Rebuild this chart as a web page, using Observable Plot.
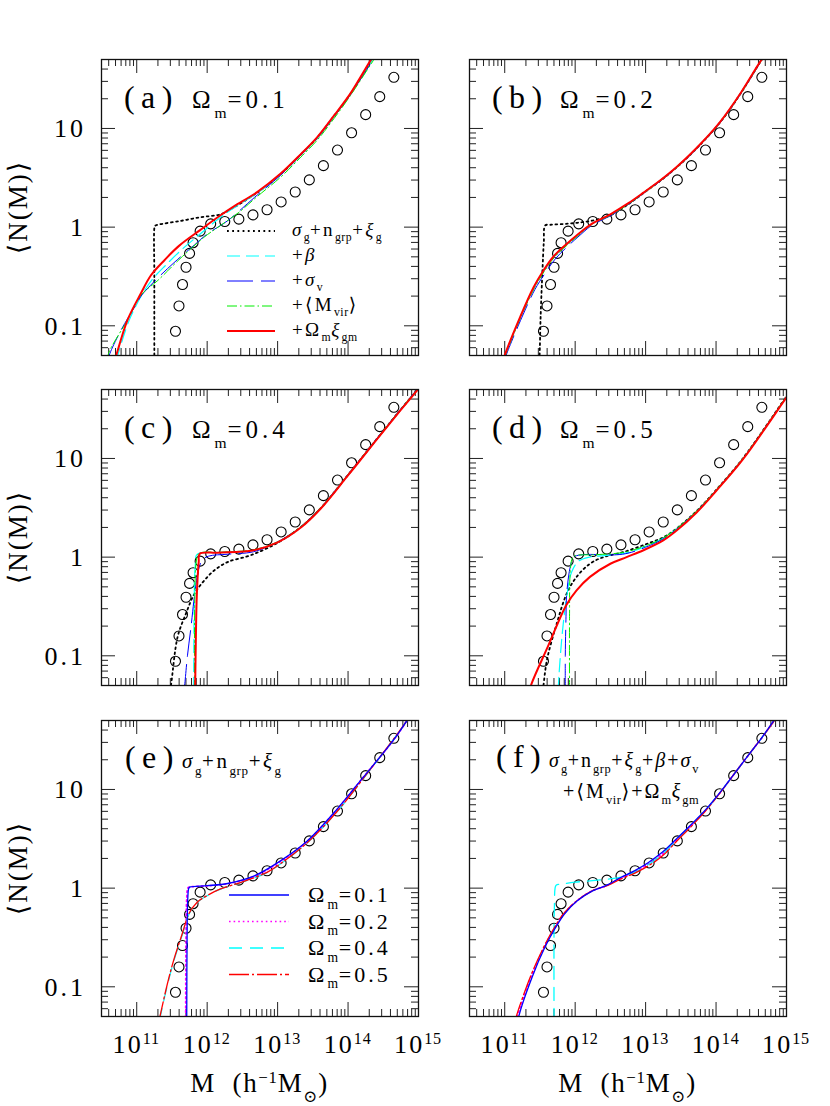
<!DOCTYPE html>
<html><head><meta charset="utf-8">
<script src="https://cdn.jsdelivr.net/npm/d3@7"></script>
<script src="https://cdn.jsdelivr.net/npm/@observablehq/plot@0.6"></script>
<style>
body{margin:0;background:#fff;}
#wrap{position:relative;width:830px;height:1106px;background:#fff;overflow:hidden;}
#wrap svg{position:absolute;}
</style></head><body><div id="wrap"></div>
<script>
// ---------- data (log10 M, log10 N) ----------
const obsLogM = [11.55,11.60,11.65,11.70,11.75,11.80,11.90,12.05,12.25,12.45,12.65,12.85,13.05,13.25,13.45,13.65,13.85,14.05,14.25,14.45,14.65];
const obsN = [0.088,0.159,0.262,0.392,0.542,0.695,0.91,1.08,1.14,1.205,1.33,1.50,1.80,2.27,3.01,4.20,6.04,9.04,13.8,21.0,33.0];

const a_dot = [[11.25,-1.35],[11.25,-0.5],[11.252,0.0],[11.26,0.012],[11.30,0.024],[11.6,0.06],[11.9,0.10],[12.19,0.13],[12.38,0.2],[12.71,0.35],[13.04,0.535],[13.33,0.735],[13.56,0.905],[13.8,1.125],[14.03,1.345],[14.33,1.69],[14.36,1.72]];
const a_beta = [[10.71,-1.35],[10.73,-1.30],[10.89,-0.95],[11.07,-0.69],[11.22,-0.53],[11.42,-0.38],[11.62,-0.24],[11.9,-0.07],[12.19,0.10],[12.38,0.195],[12.71,0.345],[13.04,0.53],[13.33,0.73],[13.56,0.90],[13.8,1.12],[14.03,1.34],[14.34,1.69],[14.37,1.72]];
const a_sigv = [[10.60,-1.35],[10.61,-1.30],[10.78,-1.04],[10.97,-0.81],[11.06,-0.70],[11.25,-0.55],[11.53,-0.36],[11.82,-0.18],[12.0,-0.07],[12.29,0.065],[12.67,0.30],[13.04,0.525],[13.33,0.73],[13.56,0.90],[13.8,1.12],[14.03,1.34],[14.35,1.69],[14.38,1.72]];
const a_mvir = [[10.59,-1.35],[10.60,-1.28],[10.87,-0.94],[11.06,-0.69],[11.30,-0.54],[11.63,-0.31],[11.96,-0.10],[12.19,0.017],[12.45,0.15],[12.71,0.31],[13.04,0.505],[13.33,0.71],[13.56,0.88],[13.8,1.10],[14.03,1.33],[14.36,1.69],[14.39,1.72]];
const a_om = [[10.69,-1.35],[10.71,-1.30],[10.87,-0.94],[11.06,-0.67],[11.20,-0.49],[11.40,-0.33],[11.60,-0.19],[11.90,-0.03],[12.19,0.12],[12.38,0.21],[12.71,0.355],[13.04,0.54],[13.33,0.74],[13.56,0.91],[13.8,1.13],[14.03,1.35],[14.32,1.69],[14.35,1.72]];

const b_dot = [[11.49,-1.35],[11.495,-1.30],[11.51,-0.9],[11.535,-0.45],[11.555,-0.15],[11.575,0.017],[11.65,0.024],[11.9,0.035],[12.1,0.05],[12.3,0.075],[12.5,0.12],[12.75,0.23],[12.97,0.345],[13.2,0.465],[13.44,0.605],[13.72,0.795],[14.05,1.055],[14.35,1.355],[14.62,1.665],[14.67,1.72]];
const b_beta = [[10.985,-1.35],[11.005,-1.30],[11.225,-0.91],[11.415,-0.615],[11.555,-0.445],[11.695,-0.305],[11.885,-0.175],[12.025,-0.09],[12.24,0.032],[12.5,0.125],[12.75,0.235],[12.97,0.347],[13.2,0.467],[13.44,0.607],[13.72,0.797],[14.05,1.057],[14.35,1.357],[14.62,1.667],[14.67,1.72]];
const b_sigv = [[11.0,-1.35],[11.02,-1.30],[11.24,-0.92],[11.43,-0.63],[11.58,-0.46],[11.72,-0.32],[11.9,-0.19],[12.04,-0.10],[12.24,0.02],[12.5,0.115],[12.75,0.228],[12.97,0.342],[13.2,0.462],[13.44,0.602],[13.72,0.792],[14.05,1.052],[14.35,1.352],[14.62,1.662],[14.67,1.72]];
const b_mvir = [[10.99,-1.35],[11.01,-1.30],[11.23,-0.91],[11.42,-0.62],[11.56,-0.45],[11.70,-0.31],[11.89,-0.18],[12.03,-0.095],[12.24,0.03],[12.5,0.12],[12.75,0.23],[12.97,0.344],[13.2,0.464],[13.44,0.604],[13.72,0.794],[14.05,1.054],[14.35,1.354],[14.62,1.664],[14.67,1.72]];
const b_om = [[10.98,-1.35],[11.0,-1.30],[11.22,-0.91],[11.41,-0.61],[11.55,-0.44],[11.69,-0.30],[11.88,-0.17],[12.02,-0.085],[12.24,0.035],[12.5,0.13],[12.75,0.24],[12.97,0.35],[13.2,0.47],[13.44,0.61],[13.72,0.80],[14.05,1.06],[14.35,1.36],[14.62,1.67],[14.67,1.72]];

const c_dot = [[11.47,-1.35],[11.486,-1.30],[11.58,-0.81],[11.70,-0.57],[11.82,-0.37],[11.96,-0.236],[12.1,-0.135],[12.29,-0.05],[12.62,0.02],[13.0,0.145],[13.33,0.305],[13.61,0.495],[13.99,0.825],[14.36,1.155],[14.7,1.455],[14.98,1.695],[15.01,1.72]];
const c_beta = [[11.81,-1.35],[11.815,-0.5],[11.83,-0.1],[11.86,0.03],[12.2,0.045],[12.66,0.07],[13.0,0.15],[13.33,0.305],[13.61,0.495],[13.99,0.825],[14.36,1.155],[14.7,1.455],[14.98,1.695],[15.01,1.72]];
const c_sigv = [[11.67,-1.35],[11.68,-1.30],[11.72,-1.0],[11.77,-0.71],[11.81,-0.45],[11.84,-0.28],[11.88,-0.12],[11.93,-0.03],[12.02,0.01],[12.3,0.03],[12.66,0.055],[13.0,0.155],[13.33,0.31],[13.61,0.50],[13.99,0.83],[14.36,1.16],[14.7,1.46],[14.98,1.70],[15.01,1.72]];
const c_mvir = [[11.82,-1.35],[11.825,-0.4],[11.845,-0.05],[11.88,0.035],[12.2,0.05],[12.66,0.075],[13.0,0.155],[13.33,0.31],[13.61,0.50],[13.99,0.828],[14.36,1.158],[14.7,1.458],[14.98,1.698],[15.01,1.72]];
const c_om = [[11.83,-1.35],[11.83,-1.30],[11.84,-0.8],[11.85,-0.45],[11.865,-0.2],[11.88,-0.05],[11.895,0.035],[12.15,0.045],[12.66,0.07],[13.0,0.15],[13.33,0.30],[13.61,0.49],[13.99,0.82],[14.36,1.15],[14.7,1.45],[14.98,1.69],[15.01,1.72]];

const d_dot = [[11.54,-1.35],[11.55,-1.30],[11.6,-1.04],[11.74,-0.67],[11.88,-0.37],[12.02,-0.20],[12.21,-0.067],[12.40,0.0],[12.68,0.05],[13.0,0.13],[13.25,0.20],[13.44,0.29],[13.72,0.465],[14.0,0.68],[14.38,1.0],[15.0,1.63],[15.05,1.68]];
const d_beta = [[11.76,-1.35],[11.77,-1.2],[11.82,-0.75],[11.88,-0.4],[11.95,-0.15],[12.05,-0.04],[12.2,0.0],[12.5,0.02],[12.75,0.045],[13.0,0.11],[13.25,0.19],[13.44,0.285],[13.72,0.46],[14.0,0.675],[14.38,0.995],[15.0,1.625],[15.05,1.675]];
const d_sigv = [[11.86,-1.35],[11.86,-1.0],[11.87,-0.6],[11.88,-0.37],[11.93,-0.1],[11.98,0.0],[12.1,0.024],[12.59,0.024],[12.75,0.04],[13.0,0.1],[13.25,0.185],[13.44,0.283],[13.72,0.46],[14.0,0.675],[14.38,0.995],[15.0,1.625],[15.05,1.675]];
const d_mvir = [[11.92,-1.35],[11.92,-0.6],[11.93,-0.15],[11.96,-0.01],[12.0,0.015],[12.3,0.025],[12.7,0.05],[13.0,0.115],[13.25,0.195],[13.44,0.29],[13.72,0.465],[14.0,0.68],[14.38,1.0],[15.0,1.63],[15.05,1.68]];
const d_om = [[11.36,-1.35],[11.373,-1.30],[11.623,-0.89],[11.873,-0.488],[12.02,-0.337],[12.21,-0.2],[12.5,-0.067],[12.73,0.0],[12.97,0.07],[13.25,0.17],[13.44,0.27],[13.72,0.45],[14.0,0.67],[14.38,0.99],[15.0,1.62],[15.05,1.67]];

const e_01 = [[11.71,-1.35],[11.71,-1.30],[11.715,-0.5],[11.725,-0.1],[11.74,0.0],[11.76,0.012],[12.0,0.025],[12.29,0.047],[12.67,0.125],[13.04,0.276],[13.42,0.478],[13.8,0.764],[14.17,1.084],[14.65,1.505],[14.83,1.69],[14.86,1.72]];
const e_02 = [[11.695,-1.35],[11.695,-1.30],[11.70,-0.5],[11.71,-0.1],[11.725,0.0],[11.745,0.01],[12.0,0.023],[12.29,0.045],[12.67,0.12],[13.04,0.27],[13.42,0.475],[13.8,0.762],[14.17,1.083],[14.65,1.505],[14.83,1.69],[14.86,1.72]];
const e_04 = [[11.32,-1.35],[11.335,-1.30],[11.44,-0.97],[11.53,-0.73],[11.65,-0.465],[11.745,-0.26],[11.86,-0.145],[12.0,-0.077],[12.19,-0.01],[12.48,0.057],[12.85,0.158],[13.05,0.25],[13.45,0.478],[13.85,0.78],[14.25,1.14],[14.65,1.512],[14.83,1.69],[14.86,1.72]];
const e_05 = [[11.315,-1.35],[11.33,-1.30],[11.435,-0.97],[11.525,-0.73],[11.645,-0.465],[11.74,-0.26],[11.855,-0.145],[12.0,-0.075],[12.19,-0.008],[12.48,0.058],[12.85,0.16],[13.05,0.252],[13.45,0.48],[13.85,0.782],[14.25,1.142],[14.65,1.514],[14.83,1.69],[14.86,1.72]];

const f_01 = [[11.19,-1.35],[11.2,-1.30],[11.39,-0.90],[11.57,-0.60],[11.71,-0.414],[11.85,-0.26],[12.03,-0.128],[12.24,-0.03],[12.45,0.03],[12.64,0.105],[12.84,0.175],[13.04,0.26],[13.24,0.365],[13.44,0.50],[13.64,0.64],[13.84,0.785],[14.04,0.955],[14.24,1.14],[14.44,1.33],[14.64,1.515],[14.84,1.72]];
const f_02 = [[11.17,-1.35],[11.18,-1.30],[11.375,-0.90],[11.56,-0.60],[11.70,-0.414],[11.84,-0.26],[12.027,-0.128],[12.24,-0.028],[12.45,0.027],[12.64,0.1],[12.84,0.165],[13.04,0.245],[13.24,0.345],[13.44,0.49],[13.64,0.63],[13.84,0.78],[14.04,0.952],[14.24,1.14],[14.44,1.33],[14.64,1.515],[14.85,1.72]];
const f_04 = [[11.70,-1.35],[11.70,-0.42],[11.705,-0.2],[11.715,0.0],[11.73,0.03],[11.8,0.04],[12.0,0.06],[12.21,0.074],[12.45,0.09],[12.64,0.11],[12.84,0.16],[13.04,0.24],[13.24,0.345],[13.44,0.49],[13.64,0.63],[13.84,0.78],[14.04,0.952],[14.24,1.14],[14.44,1.33],[14.64,1.515],[14.85,1.72]];
const f_05 = [[11.15,-1.35],[11.165,-1.30],[11.363,-0.90],[11.552,-0.60],[11.693,-0.414],[11.835,-0.26],[12.024,-0.128],[12.24,-0.027],[12.45,0.024],[12.64,0.09],[12.84,0.15],[13.04,0.226],[13.24,0.327],[13.44,0.475],[13.64,0.62],[13.84,0.774],[14.04,0.95],[14.24,1.14],[14.44,1.33],[14.64,1.515],[14.85,1.72]];

const panelLetters = ["a","b","c","d","e","f"];
const omegaLabels = ["0.1","0.2","0.4","0.5"];
const yTickValues = [0.1, 1, 10];
const yTickLabels = ["0.1","1","10"];
const xTickValues = [1e11, 1e12, 1e13, 1e14, 1e15];
const xTickExps = ["11","12","13","14","15"];
const legendOmegas = ["0.1","0.2","0.4","0.5"];

// ---------- layout ----------
const PW = 317, PH = 296, PAD = 2;
const colL = [101, 469];
const rowT = [59, 389, 720];
const xDomain = [Math.pow(10, 10.5), 1e15];
const yDomain = [0.05, 50];
const FONT = "'Liberation Serif','DejaVu Serif',serif";

const S = {
  dot:  {stroke:"#000", strokeWidth:1.8, strokeDasharray:"1.8,3.4"},
  beta: {stroke:"#00ffff", strokeWidth:1.2, strokeDasharray:"13,6"},
  sigv: {stroke:"#0000ff", strokeWidth:1, strokeDasharray:"26,8"},
  mvir: {stroke:"#00ee00", strokeWidth:1, strokeDasharray:"10,3,1.5,3"},
  om:   {stroke:"#ff0000", strokeWidth:2},
  o1:   {stroke:"#0000ff", strokeWidth:1.3},
  o2:   {stroke:"#ff00ff", strokeWidth:1.7, strokeDasharray:"1.6,3"},
  o4:   {stroke:"#00ffff", strokeWidth:1.3, strokeDasharray:"13,8"},
  o5:   {stroke:"#ff0000", strokeWidth:1.3, strokeDasharray:"20,3,2,3"}
};

const panels = [
  {col:0,row:0, curves:[[a_dot,"dot"],[a_beta,"beta"],[a_sigv,"sigv"],[a_mvir,"mvir"],[a_om,"om"]]},
  {col:1,row:0, curves:[[b_dot,"dot"],[b_beta,"beta"],[b_sigv,"sigv"],[b_mvir,"mvir"],[b_om,"om"]]},
  {col:0,row:1, curves:[[c_dot,"dot"],[c_beta,"beta"],[c_sigv,"sigv"],[c_mvir,"mvir"],[c_om,"om"]]},
  {col:1,row:1, curves:[[d_dot,"dot"],[d_beta,"beta"],[d_sigv,"sigv"],[d_mvir,"mvir"],[d_om,"om"]]},
  {col:0,row:2, curves:[[e_02,"o2"],[e_04,"o4"],[e_05,"o5"],[e_01,"o1"]]},
  {col:1,row:2, curves:[[f_02,"o2"],[f_04,"o4"],[f_05,"o5"],[f_01,"o1"]]}
];

const obs = obsLogM.map((m,i)=>({M:Math.pow(10,m), N:obsN[i]}));
const isMajor = v => Math.abs(Math.log10(v) - Math.round(Math.log10(v))) < 1e-9;
const xt = d3.scaleLog().domain(xDomain).ticks();
const yt = d3.scaleLog().domain(yDomain).ticks();
const xMaj = xt.filter(isMajor), xMin = xt.filter(v=>!isMajor(v));
const yMaj = yt.filter(isMajor), yMin = yt.filter(v=>!isMajor(v));

const wrap = document.getElementById("wrap");
const charts = [];
panels.forEach((p) => {
  const L = colL[p.col], T = rowT[p.row];
  const tk = {stroke:"#222", strokeWidth:1};
  const marks = [
    Plot.ruleX(xMaj, {...tk, insetTop: PH-14}),
    Plot.ruleX(xMaj, {...tk, insetBottom: PH-14}),
    Plot.ruleX(xMin, {...tk, insetTop: PH-7}),
    Plot.ruleX(xMin, {...tk, insetBottom: PH-7}),
    Plot.ruleY(yMaj, {...tk, insetRight: PW-14}),
    Plot.ruleY(yMaj, {...tk, insetLeft: PW-14}),
    Plot.ruleY(yMin, {...tk, insetRight: PW-7}),
    Plot.ruleY(yMin, {...tk, insetLeft: PW-7}),
    Plot.dot(obs, {x:"M", y:"N", r:5, stroke:"#000", strokeWidth:1.1, fill:"none", clip:true})
  ];
  p.curves.forEach(([data, key]) => {
    marks.push(Plot.line(data, {x:d=>Math.pow(10,d[0]), y:d=>Math.pow(10,d[1]), curve:"catmull-rom", clip:true, fill:"none", ...S[key]}));
  });
  marks.push(Plot.frame({stroke:"#111", strokeWidth:1.3}));
  const chart = Plot.plot({
    width: PW + 2*PAD, height: PH + 2*PAD,
    marginLeft: PAD, marginRight: PAD, marginTop: PAD, marginBottom: PAD,
    x: {type:"log", domain:xDomain, axis:null},
    y: {type:"log", domain:yDomain, axis:null},
    style: {background:"transparent", overflow:"visible"},
    marks
  });
  chart.style.left = (L-PAD)+"px";
  chart.style.top = (T-PAD)+"px";
  wrap.appendChild(chart);
  charts.push({chart, L, T, p});
});

// ---------- overlay text ----------
const ov = d3.select(wrap).append("svg")
  .attr("width", 830).attr("height", 1106)
  .style("left","0px").style("top","0px")
  .attr("font-family", FONT).attr("fill", "#000");

function rich(parent, x, y, parts, size, anchor, ls, subShift) {
  const spacing = (ls === undefined ? 0.12 : ls) * size;
  const sd = subShift === undefined ? 0.36 : subShift;
  const t = parent.append("text").attr("x", x).attr("y", y)
    .attr("font-size", size).attr("text-anchor", anchor || "start")
    .attr("letter-spacing", spacing.toFixed(2));
  let cur = 0;
  for (const p of parts) {
    const o = typeof p === "string" ? {t:p} : p;
    const shift = o.sub ? size*sd : o.sup ? -size*0.34 : 0;
    const ts = t.append("tspan").attr("dy", (shift-cur).toFixed(2)).text(o.t);
    cur = shift;
    if (o.sub || o.sup) ts.attr("font-size", (size*0.62).toFixed(2)).attr("letter-spacing", (size*0.03).toFixed(2));
    if (o.i) ts.attr("font-style", "italic");
  }
  return t;
}

charts.forEach(({chart, L, T, p}, idx) => {
  const sx = chart.scale("x"), sy = chart.scale("y");
  const X = v => L - PAD + sx.apply(v);
  const Y = v => T - PAD + sy.apply(v);
  const letter = panelLetters[idx];
  if (idx < 4) {
    rich(ov, L+23, T+49, ["("+letter+")"], 32, "start", 0.2);
    rich(ov, L+91, T+49, ["Ω", {t:"m", sub:1}, "="+omegaLabels[idx]], 25, "start", 0.16, 0.38);
  } else if (idx === 4) {
    rich(ov, L+24, T+48, ["("+letter+")"], 32, "start", 0.2);
    rich(ov, L+81, T+48, [{t:"σ",i:1},{t:"g",sub:1},"+n",{t:"grp",sub:1},"+",{t:"ξ",i:1},{t:"g",sub:1}], 21, "start", 0.12, 0.32);
  } else {
    rich(ov, L+27, T+47, ["("+letter+")"], 32, "start", 0.2);
    rich(ov, L+80, T+47, [{t:"σ",i:1},{t:"g",sub:1},"+n",{t:"grp",sub:1},"+",{t:"ξ",i:1},{t:"g",sub:1},"+",{t:"β",i:1},"+",{t:"σ",i:1},{t:"v",sub:1}], 20, "start", 0.1, 0.32);
    rich(ov, L+94, T+78, ["+⟨M",{t:"vir",sub:1},"⟩+Ω",{t:"m",sub:1},{t:"ξ",i:1},{t:"gm",sub:1}], 20, "start", 0.1, 0.32);
  }
  // y axis (left column)
  if (p.col === 0) {
    yTickValues.forEach((v,i) => {
      ov.append("text").attr("x", L-15).attr("y", Y(v)).attr("dy","0.36em")
        .attr("text-anchor","end").attr("font-size",26).attr("letter-spacing","3")
        .text(yTickLabels[i]);
    });
    ov.append("text").attr("transform", `translate(17,${T+PH/2}) rotate(-90)`)
      .attr("text-anchor","middle").attr("dy","0.36em").attr("font-size",27)
      .attr("letter-spacing","2").text("⟨N(M)⟩");
  }
  // x axis (bottom row)
  if (p.row === 2) {
    xTickValues.forEach((v,i) => {
      rich(ov, X(v), T+PH+37, ["10", {t:xTickExps[i], sup:1}], 26, "middle", 0.08);
    });
    rich(ov, L+PW/2, T+PH+76, ["M\u00a0\u00a0(h", {t:"−1", sup:1}, "M", {t:"⊙", sub:1}, ")"], 27, "middle", 0.06);
  }
});

// ---------- legends ----------
function swatch(x1, x2, y, st) {
  ov.append("line").attr("x1",x1).attr("x2",x2).attr("y1",y).attr("y2",y)
    .attr("stroke", st.stroke).attr("stroke-width", st.strokeWidth)
    .attr("stroke-dasharray", st.strokeDasharray || null);
}
{
  const L = colL[0], T = rowT[0];
  const keys = ["dot","beta","sigv","mvir","om"];
  const offs = [172,197,222,247,272];
  const texts = [
    [{t:"σ",i:1},{t:"g",sub:1},"+n",{t:"grp",sub:1},"+",{t:"ξ",i:1},{t:"g",sub:1}],
    ["+",{t:"β",i:1}],
    ["+",{t:"σ",i:1},{t:"v",sub:1}],
    ["+⟨M",{t:"vir",sub:1},"⟩"],
    ["+Ω",{t:"m",sub:1},{t:"ξ",i:1},{t:"gm",sub:1}]
  ];
  keys.forEach((k,i) => {
    swatch(L+126, L+174, T+offs[i], S[k]);
    rich(ov, L+191, T+offs[i]+5, texts[i], 19, "start", 0.12, 0.28);
  });
}
{
  const L = colL[0], T = rowT[2];
  const keys = ["o1","o2","o4","o5"];
  const offs = [175,201.5,228,254.5];
  keys.forEach((k,i) => {
    swatch(L+128, L+188, T+offs[i], S[k]);
    rich(ov, L+207, T+offs[i]+7, ["Ω",{t:"m",sub:1},"="+legendOmegas[i]], 22, "start", 0.14, 0.3);
  });
}
</script></body></html>
